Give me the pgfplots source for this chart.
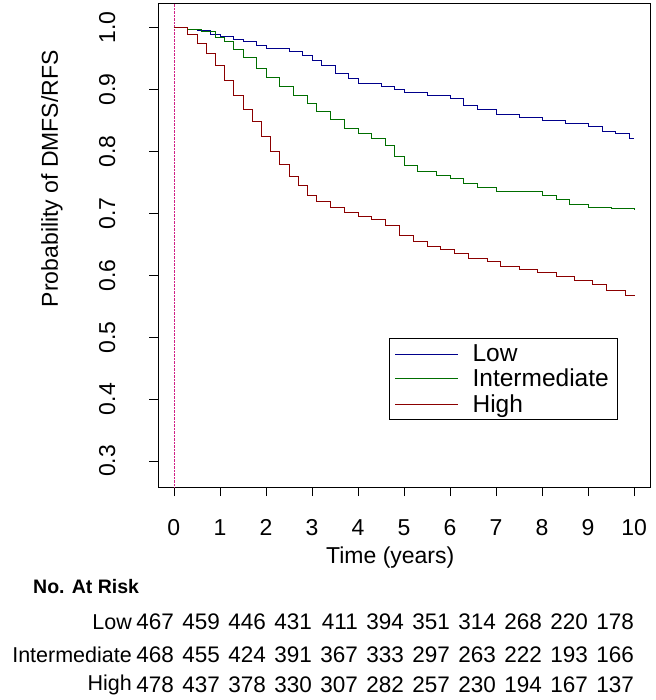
\documentclass[border=0pt]{standalone}
\usepackage{pgfplots}
\pgfplotsset{compat=1.18}
\usepackage{fontspec}
\setmainfont{Liberation Sans}
\definecolor{lowc}{RGB}{0,0,139}
\definecolor{midc}{RGB}{0,110,0}
\definecolor{highc}{RGB}{139,0,0}
\begin{document}
\begin{tikzpicture}
\begin{axis}[
  scale only axis, width=492pt, height=484pt,
  xmin=-0.345, xmax=10.345, ymin=0.258, ymax=1.04,
  axis line style={black, line width=0.6pt},
  xtick pos=bottom, ytick pos=left,
  tick align=outside, tick style={black, line width=0.6pt}, major tick length=9pt,
  xtick={0,...,10}, ytick={0.3,0.4,...,1.0},
  yticklabel style={rotate=90, anchor=south, yshift=30pt, /pgf/number format/.cd, fixed, fixed zerofill, precision=1},
  xticklabel style={yshift=-20pt},
  /pgf/number format/assume math mode=true,
  ticklabel style={font=\fontsize{23}{23}\selectfont},
  xlabel={Time (years)}, ylabel={Probability of DMFS/RFS},
  label style={font=\fontsize{23}{23}\selectfont},
  xlabel style={at={(axis description cs:0.472,0)}, anchor=center, yshift=-71pt},
  ylabel style={at={(axis description cs:0,0.637)}, anchor=center, yshift=106pt},
  clip=false,
  legend cell align=left,
  legend style={at={(axis cs:9.63,0.498)}, anchor=north east, draw=black, line width=0.6pt,
    font=\fontsize{24.5}{24.5}\selectfont, inner xsep=6pt, inner ysep=4pt, row sep=2pt, column sep=12pt,
    nodes={inner xsep=2pt}},
]
\addplot[densely dotted, magenta!70!violet, forget plot] coordinates {(0,0.258) (0,1.04)};
\addplot[const plot, lowc, line width=0.7pt, forget plot] coordinates {
(0,1.0)(0.3,0.998)(0.5,0.995)(0.8,0.99)(1,0.986)(1.3,0.982)(1.5,0.978)(1.8,0.972)(2,0.967)(2.5,0.962)(2.8,0.955)(3,0.948)(3.2,0.94)(3.5,0.926)(3.8,0.918)(4,0.91)(4.5,0.905)(4.8,0.9)(5,0.895)(5.5,0.89)(6,0.886)(6.3,0.875)(6.6,0.868)(7,0.86)(7.5,0.855)(8,0.85)(8.5,0.845)(9,0.84)(9.3,0.833)(9.6,0.83)(9.9,0.822)(10,0.822)};
\addplot[const plot, midc, line width=0.7pt, forget plot] coordinates {
(0,1.0)(0.3,0.998)(0.6,0.994)(0.9,0.985)(1.1,0.978)(1.3,0.965)(1.5,0.952)(1.8,0.935)(2,0.92)(2.3,0.905)(2.6,0.89)(2.9,0.878)(3.1,0.865)(3.4,0.852)(3.7,0.838)(4,0.83)(4.3,0.822)(4.6,0.81)(4.8,0.792)(5,0.778)(5.3,0.768)(5.7,0.762)(6,0.756)(6.3,0.748)(6.6,0.742)(7,0.736)(7.5,0.735)(8,0.73)(8.3,0.722)(8.6,0.715)(9,0.71)(9.5,0.708)(10,0.705)};
\addplot[const plot, highc, line width=0.7pt, forget plot] coordinates {
(0,1.0)(0.3,0.99)(0.5,0.975)(0.7,0.958)(0.9,0.94)(1.1,0.915)(1.3,0.89)(1.5,0.868)(1.7,0.848)(1.9,0.825)(2.1,0.8)(2.3,0.78)(2.5,0.76)(2.7,0.745)(2.9,0.73)(3.1,0.72)(3.4,0.71)(3.7,0.702)(4,0.695)(4.3,0.69)(4.6,0.68)(4.9,0.665)(5.2,0.655)(5.5,0.647)(5.8,0.642)(6.1,0.635)(6.4,0.628)(6.8,0.622)(7.1,0.615)(7.5,0.61)(7.9,0.605)(8.3,0.598)(8.7,0.592)(9.1,0.585)(9.4,0.575)(9.8,0.568)(10,0.567)};
\addlegendimage{legend image code/.code={\draw[draw=lowc, line width=0.8pt] (0pt,0pt) -- (63pt,0pt);}}\addlegendentry{Low}
\addlegendimage{legend image code/.code={\draw[draw=midc, line width=0.8pt] (0pt,0pt) -- (63pt,0pt);}}\addlegendentry{Intermediate}
\addlegendimage{legend image code/.code={\draw[draw=highc, line width=0.8pt] (0pt,0pt) -- (63pt,0pt);}}\addlegendentry{High}
\end{axis}
\tikzset{risk/.style={font=\fontsize{22.5}{22.5}\selectfont, anchor=east, inner sep=0pt}}
\begin{scope}[shift={(current axis.south west)}]
\node[font=\bfseries\fontsize{19.5}{19.5}\selectfont, anchor=west, inner sep=0pt] at (-125pt,-100pt) {No. At Risk};
\foreach \x/\a/\b/\c in {0/467/468/478,1/459/455/437,2/446/424/378,3/431/391/330,4/411/367/307,5/394/333/282,6/351/297/257,7/314/263/230,8/268/222/194,9/220/193/167,10/178/166/137}{
  \node[risk] at (16pt+46.0pt*\x,-135pt) {\a};
  \node[risk] at (16pt+46.0pt*\x,-168pt) {\b};
  \node[risk] at (16pt+46.0pt*\x,-198pt) {\c};
}
\tikzset{rlab/.style={font=\fontsize{21.5}{21.5}\selectfont, anchor=east, inner sep=0pt}}
\node[rlab] at (-26pt,-135pt) {Low};
\node[rlab] at (-26pt,-168pt) {Intermediate};
\node[rlab] at (-26pt,-198pt) {High};
\path (-158pt,-213pt) rectangle ++(655pt,700pt);
\end{scope}
\end{tikzpicture}
\end{document}
